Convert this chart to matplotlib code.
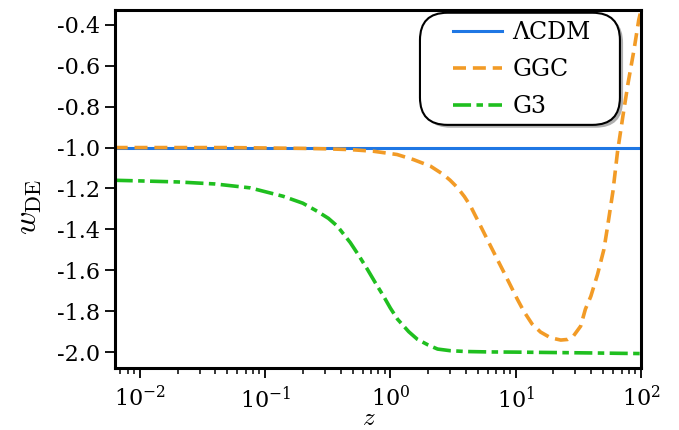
import matplotlib
matplotlib.use("Agg")
import matplotlib.pyplot as plt
import numpy as np
from matplotlib.patches import FancyBboxPatch
from matplotlib.ticker import FixedLocator, FormatStrFormatter, LogLocator

plt.rcParams["font.family"] = ["DejaVu Serif"]
plt.rcParams["mathtext.fontset"] = "dejavuserif"
plt.rcParams["axes.unicode_minus"] = False

################################################################################
# Values.                                                  #
################################################################################
z_lcdm = [0.0063, 100.0]
w_lcdm = [-1.0, -1.0]

z_ggc = [0.0063, 0.02, 0.05, 0.1, 0.2, 0.3, 0.48, 0.731, 1.13, 1.53, 2.09,
         2.65, 3.0, 3.42, 3.9, 4.36, 5.25, 6.3, 7.18, 8.1, 9.12, 10.3, 11.6,
         13.5, 15.8, 19.0, 22.9, 26.0, 29.0, 33.0, 36.0, 39.8, 45.0, 50.6,
         54.0, 59.7, 65.0, 72.0, 79.0, 88.0, 96.0, 100.0]
w_ggc = [-1.0, -1.0, -1.0, -1.002, -1.004, -1.006, -1.01, -1.018, -1.034,
         -1.059, -1.091, -1.132, -1.16, -1.195, -1.24, -1.286, -1.384,
         -1.481, -1.55, -1.613, -1.676, -1.741, -1.8, -1.862, -1.902,
         -1.93, -1.941, -1.938, -1.92, -1.873, -1.79, -1.727, -1.62, -1.498,
         -1.39, -1.215, -1.02, -0.84, -0.683, -0.522, -0.376, -0.33]

z_g3 = [0.0063, 0.01, 0.02, 0.04, 0.076, 0.139, 0.2, 0.26, 0.32, 0.377,
        0.479, 0.56, 0.655, 0.76, 0.879, 1.0, 1.14, 1.4, 1.64, 2.0, 2.38,
        3.0, 4.0, 6.0, 10.0, 20.0, 40.0, 70.0, 100.0]
w_g3 = [-1.16, -1.163, -1.168, -1.178, -1.197, -1.238, -1.272, -1.311,
        -1.346, -1.384, -1.465, -1.528, -1.595, -1.662, -1.725, -1.785,
        -1.839, -1.9, -1.937, -1.965, -1.985, -1.993, -1.997, -1.999, -2.0,
        -2.002, -2.004, -2.006, -2.007]

labels = [u"\u039bCDM", "GGC", "G3"]
colors = ["#1f77e4", "#f29b26", "#1fbf1f"]

################################################################################
# Plot.                                                                        #
################################################################################
fig = plt.figure(figsize=(6.79, 4.30), dpi=100)
ax = fig.add_axes([0.169, 0.144, 0.775, 0.833])

ax.plot(z_lcdm, w_lcdm, "-", c=colors[0], lw=2.2, label=labels[0])
ax.plot(z_ggc, w_ggc, c=colors[1], lw=2.6, dashes=(3.6, 1.9), label=labels[1])
ax.plot(z_g3, w_g3, c=colors[2], lw=2.6, dashes=(5.0, 1.5, 1.8, 1.5),
        label=labels[2])

ax.set_xscale("log")
ax.set_xlim(10 ** -2.2, 100)
ax.set_ylim(-2.078, -0.327)
ax.yaxis.set_major_locator(FixedLocator(np.arange(-2.0, -0.39, 0.2)))
ax.yaxis.set_major_formatter(FormatStrFormatter("%.1f"))
ax.xaxis.set_major_locator(LogLocator(base=10, numticks=10))
ax.xaxis.set_minor_locator(LogLocator(base=10, subs=np.arange(2, 10), numticks=10))

ax.tick_params(axis="both", which="major", labelsize=16, length=7, width=1.3,
               direction="out")
ax.tick_params(axis="x", which="minor", length=4, width=1.1, direction="out")
ax.tick_params(axis="x", which="major", pad=6)
for sp in ax.spines.values():
    sp.set_linewidth(2.2)

ax.set_ylabel(r"$w_{\rm DE}$", fontsize=23, math_fontfamily="cm")
ax.yaxis.set_label_coords(-0.135, 0.45)
ax.set_xlabel(r"$z$", fontsize=18, math_fontfamily="cm")
ax.xaxis.set_label_coords(0.483, -0.108)

# rounded legend box with shadow
aspect = 526 / 358
shadow = FancyBboxPatch((0.586, 0.671), 0.380, 0.313, transform=ax.transAxes,
                        boxstyle="round,pad=0,rounding_size=0.052",
                        mutation_aspect=aspect, fc="#7a7a7a", ec="none",
                        alpha=0.6, zorder=4)
box = FancyBboxPatch((0.580, 0.679), 0.380, 0.313, transform=ax.transAxes,
                     boxstyle="round,pad=0,rounding_size=0.052",
                     mutation_aspect=aspect, fc="white", ec="black",
                     lw=1.5, zorder=4.5)
ax.add_patch(shadow)
ax.add_patch(box)

leg = ax.legend(loc="upper left", bbox_to_anchor=(0.643, 0.969), frameon=False,
                fontsize=17, handlelength=2.08, handletextpad=0.42,
                labelspacing=0.6, borderpad=0, borderaxespad=0)
leg.set_zorder(5)

fig.savefig("out.png", dpi=100)
